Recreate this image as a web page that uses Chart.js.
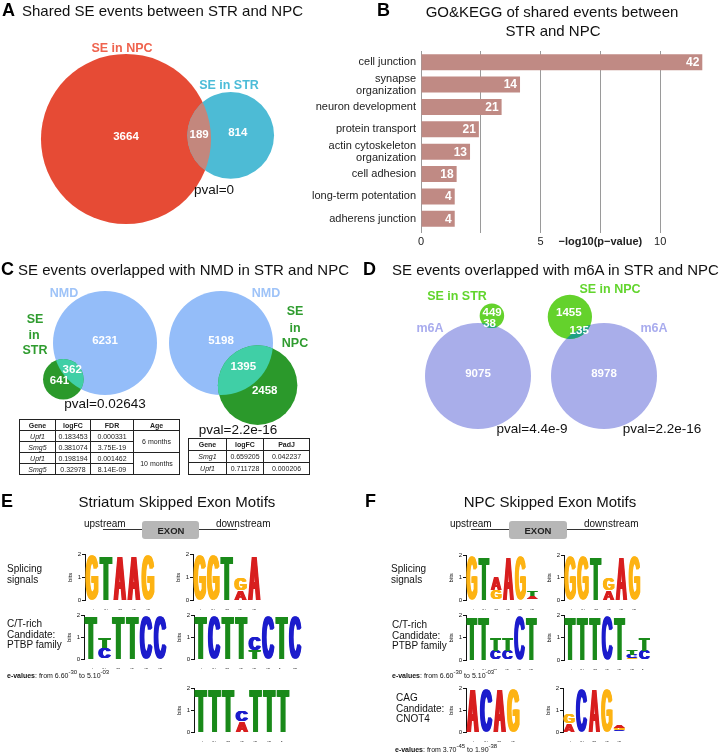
<!DOCTYPE html>
<html><head><meta charset="utf-8">
<script src="https://cdn.jsdelivr.net/npm/chart.js@4.4.1/dist/chart.umd.min.js"></script>
<style>
html,body{margin:0;padding:0;background:#fff;}
body{width:720px;height:753px;position:relative;overflow:hidden;font-family:"Liberation Sans",Arial,Helvetica,sans-serif;color:#111;}
canvas{position:absolute;}
.t{position:absolute;white-space:nowrap;line-height:1;}
.c{transform:translate(-50%,-50%);}
.l{transform:translateY(-50%);}
.pl{font-weight:bold;font-size:18px;color:#000;}
.ttl{font-size:15px;}
.vl{font-weight:bold;font-size:12.5px;}
.pv{font-size:13.5px;}
.side{font-size:10px;line-height:10.5px;}
.ev{font-size:7px;}
.ev sup{font-size:6px;vertical-align:4px;line-height:0;}
.ln{position:absolute;height:1px;background:#333;}
.exon{position:absolute;background:#b7b7b7;border-radius:3px;}
table.tb{position:absolute;border-collapse:collapse;font-size:7px;color:#222;table-layout:fixed;}
table.tb td{border:1px solid #222;text-align:center;padding:0;overflow:hidden;}
table.tb tr.h td{font-weight:bold;}
table.tb td.g{font-style:italic;}
</style></head>
<body>
<canvas id="venn" width="720" height="753" style="left:0;top:0"></canvas>
<canvas id="goBar" width="420" height="214" style="left:300px;top:36px"></canvas>

<!-- Panel letters and titles -->
<div class="t l pl" style="left:2px;top:10px">A</div>
<div class="t l ttl" style="left:22px;top:10px">Shared SE events between STR and NPC</div>
<div class="t l pl" style="left:377px;top:10px">B</div>
<div class="t c ttl" style="left:552px;top:11px">GO&amp;KEGG of shared events between</div>
<div class="t c ttl" style="left:553px;top:30px">STR and NPC</div>
<div class="t l pl" style="left:1px;top:269px">C</div>
<div class="t l ttl" style="left:18px;top:269px">SE events overlapped with NMD in STR and NPC</div>
<div class="t l pl" style="left:363px;top:269px">D</div>
<div class="t l ttl" style="left:392px;top:269px">SE events overlapped with m6A in STR and NPC</div>
<div class="t l pl" style="left:1px;top:501px">E</div>
<div class="t c ttl" style="left:177px;top:501px">Striatum Skipped Exon Motifs</div>
<div class="t l pl" style="left:365px;top:501px">F</div>
<div class="t c ttl" style="left:550px;top:501px">NPC Skipped Exon Motifs</div>

<!-- Venn labels -->
<div class="t c vl" style="left:122px;top:48px;color:#ef634e">SE in NPC</div>
<div class="t c vl" style="left:229px;top:85px;color:#4cbcd8">SE in STR</div>
<div class="t c pv" style="left:214px;top:190px">pval=0</div>

<div class="t c vl" style="left:64px;top:293px;color:#9ec3f8">NMD</div>
<div class="t c vl" style="left:35px;top:319px;color:#2f9c2f">SE</div>
<div class="t c vl" style="left:34px;top:335px;color:#2f9c2f">in</div>
<div class="t c vl" style="left:35px;top:350px;color:#2f9c2f">STR</div>
<div class="t c pv" style="left:105px;top:404px">pval=0.02643</div>
<div class="t c vl" style="left:266px;top:293px;color:#9ec3f8">NMD</div>
<div class="t c vl" style="left:295px;top:311px;color:#2f9c2f">SE</div>
<div class="t c vl" style="left:295px;top:328px;color:#2f9c2f">in</div>
<div class="t c vl" style="left:295px;top:343px;color:#2f9c2f">NPC</div>
<div class="t c pv" style="left:238px;top:430px">pval=2.2e-16</div>

<div class="t c vl" style="left:457px;top:296px;color:#62d52d">SE in STR</div>
<div class="t c vl" style="left:430px;top:328px;color:#a9acee">m6A</div>
<div class="t c pv" style="left:532px;top:429px">pval=4.4e-9</div>
<div class="t c vl" style="left:610px;top:289px;color:#62d52d">SE in NPC</div>
<div class="t c vl" style="left:654px;top:328px;color:#a9acee">m6A</div>
<div class="t c pv" style="left:662px;top:429px">pval=2.2e-16</div>

<!-- Exon diagrams -->
<div class="t l" style="left:84px;top:524px;font-size:10px">upstream</div>
<div class="ln" style="left:103px;top:529px;width:39px"></div>
<div class="exon" style="left:142px;top:521px;width:57px;height:18px"></div>
<div class="t c" style="left:171px;top:531px;font-size:9.5px;font-weight:bold;color:#222">EXON</div>
<div class="ln" style="left:199px;top:529px;width:38px"></div>
<div class="t l" style="left:216px;top:524px;font-size:10px">downstream</div>

<div class="t l" style="left:450px;top:524px;font-size:10px">upstream</div>
<div class="ln" style="left:471px;top:529px;width:38px"></div>
<div class="exon" style="left:509px;top:521px;width:58px;height:18px"></div>
<div class="t c" style="left:538px;top:531px;font-size:9.5px;font-weight:bold;color:#222">EXON</div>
<div class="ln" style="left:567px;top:529px;width:38px"></div>
<div class="t l" style="left:584px;top:524px;font-size:10px">downstream</div>

<!-- Side labels -->
<div class="t side" style="left:7px;top:564px">Splicing<br>signals</div>
<div class="t side" style="left:7px;top:619px">C/T-rich<br>Candidate:<br>PTBP family</div>
<div class="t l ev" style="left:7px;top:675px"><b>e-values</b>: from 6.60<sup>-30</sup> to 5.10<sup>-03</sup></div>
<div class="t side" style="left:391px;top:564px">Splicing<br>signals</div>
<div class="t side" style="left:392px;top:620px">C/T-rich<br>Candidate:<br>PTBP family</div>
<div class="t l ev" style="left:392px;top:675px"><b>e-values</b>: from 6.60<sup>-30</sup> to 5.10<sup>-03</sup></div>
<div class="t side" style="left:396px;top:693px">CAG<br>Candidate:<br>CNOT4</div>
<div class="t l ev" style="left:395px;top:749px"><b>e-values</b>: from 3.70<sup>-45</sup> to 1.90<sup>-38</sup></div>

<script>
// ---------------- DATA ----------------
// Panel A: [NPC only, shared, STR only]
const sharedSECounts = [3664, 189, 814];
// Panel C: [NMD only, overlap, SE only]
const nmdSTRCounts = [6231, 362, 641];
const nmdNPCCounts = [5198, 1395, 2458];
// Panel D: [m6A only, overlap, SE only]
const m6aSTRCounts = [9075, 38, 449];
const m6aNPCCounts = [8978, 135, 1455];

// Panel B
const goTerms = ['cell junction', ['synapse', 'organization'], 'neuron development', 'protein transport',
  ['actin cytoskeleton', 'organization'], 'cell adhesion', 'long-term potentation', 'adherens junction'];
const goNegLog10P = [11.76, 4.14, 3.37, 2.42, 2.05, 1.49, 1.41, 1.41];
const goGeneCounts = [42, 14, 21, 21, 13, 18, 4, 4];
const goAxisTicks = [0, 5, 10];
const goAxisTitle = '\u2212log10(p\u2212value)';

// Tables
const nmdTableHeader = ['Gene', 'logFC', 'FDR', 'Age'];
const nmdTableGenes = ['Upf1', 'Smg5', 'Upf1', 'Smg5'];
const nmdTableLogFC = ['0.183453', '0.381074', '0.198194', '0.32978'];
const nmdTableFDR = ['0.000331', '3.75E-19', '0.001462', '8.14E-09'];
const nmdTableAge = ['6 months', '10 months'];
const npcTableHeader = ['Gene', 'logFC', 'PadJ'];
const npcTableGenes = ['Smg1', 'Upf1'];
const npcTableLogFC = ['0.659205', '0.711728'];
const npcTablePadj = ['0.042237', '0.000206'];

// Motif logos: per position, stacked letters bottom->top as [letter, bits]
const motifE_splice5 = [[['G',1.97]],[['T',1.97]],[['A',1.97]],[['A',1.97]],[['G',1.97]]];
const motifE_splice3 = [[['G',1.97]],[['G',1.97]],[['T',1.97]],[['A',0.44],['G',0.54]],[['A',1.97]]];
const motifE_ct1 = [[['T',1.97]],[['C',0.5],['T',0.5]],[['T',1.97]],[['T',1.97]],[['C',1.97]],[['C',1.97]]];
const motifE_ct2 = [[['T',1.97]],[['C',1.97]],[['T',1.97]],[['T',1.97]],[['T',0.42],['C',0.63]],[['C',1.97]],[['T',1.97]],[['C',1.97]]];
const motifE_ct3 = [[['T',1.97]],[['T',1.97]],[['T',1.97]],[['A',0.5],['C',0.5]],[['T',1.97]],[['T',1.97]],[['T',1.97]]];
const motifF_splice5 = [[['G',1.97]],[['T',1.97]],[['G',0.45],['A',0.55]],[['A',1.97]],[['G',1.97]],[['C',0.06],['A',0.1],['T',0.22]]];
const motifF_splice3 = [[['G',1.97]],[['G',1.97]],[['T',1.97]],[['A',0.45],['G',0.55]],[['A',1.97]],[['G',1.97]]];
const motifF_ct1 = [[['T',1.97]],[['T',1.97]],[['C',0.42],['T',0.6]],[['C',0.42],['T',0.6]],[['C',1.97]],[['T',1.97]]];
const motifF_ct2 = [[['T',1.97]],[['T',1.97]],[['T',1.97]],[['C',1.97]],[['T',1.97]],[['G',0.08],['C',0.16],['T',0.24]],[['C',0.42],['T',0.6]]];
const motifF_cag1 = [[['A',1.97]],[['C',1.97]],[['A',1.97]],[['G',1.97]]];
const motifF_cag2 = [[['A',0.4],['G',0.4]],[['C',1.97]],[['A',1.97]],[['G',1.97]],[['C',0.08],['G',0.1],['A',0.1]]];

// ---------------- GENERAL ----------------
const FONT = '"Liberation Sans", Arial, Helvetica, sans-serif';
Chart.defaults.font.family = FONT;
Chart.defaults.animation = false;
Chart.defaults.responsive = false;
Chart.defaults.events = [];
Chart.defaults.plugins.legend.display = false;
Chart.defaults.plugins.tooltip.enabled = false;

// ---------------- VENN (A, C, D) ----------------
function lensArea(r1, r2, d) {
  if (d >= r1 + r2) return 0;
  if (d <= Math.abs(r1 - r2)) return Math.PI * Math.min(r1, r2) ** 2;
  const a1 = Math.acos((d*d + r1*r1 - r2*r2) / (2*d*r1));
  const a2 = Math.acos((d*d + r2*r2 - r1*r1) / (2*d*r2));
  const t = 0.5 * Math.sqrt((-d+r1+r2)*(d+r1-r2)*(d-r1+r2)*(d+r1+r2));
  return r1*r1*a1 + r2*r2*a2 - t;
}
function distanceForOverlap(r1, r2, target) {
  let lo = Math.abs(r1 - r2), hi = r1 + r2;
  for (let i = 0; i < 80; i++) {
    const mid = (lo + hi) / 2;
    if (lensArea(r1, r2, mid) > target) lo = mid; else hi = mid;
  }
  return (lo + hi) / 2;
}
// layout only (anchor of big circle, direction of small circle, scale)
const vennPanels = [
  {counts: sharedSECounts, anchor: [126, 139], angle: -2, pxPerUnit: 1.37, fill: ['#e64b35', '#4dbbd5'], overlap: '#c3877d'},
  {counts: nmdSTRCounts, anchor: [105, 343], angle: 139, pxPerUnit: 0.6404, fill: ['#94bdf9', '#2b992b'], overlap: '#40cfa6'},
  {counts: nmdNPCCounts, anchor: [221, 343], angle: 49, pxPerUnit: 0.6404, fill: ['#94bdf9', '#2b992b'], overlap: '#40cfa6'},
  {counts: m6aSTRCounts, anchor: [478, 376], angle: -77, pxPerUnit: 0.5552, fill: ['#a9aeea', '#64d22c'], overlap: '#1f9f85'},
  {counts: m6aNPCCounts, anchor: [604, 376], angle: -120, pxPerUnit: 0.5552, fill: ['#a9aeea', '#64d22c'], overlap: '#1f9f85'}
];
const vennDatasets = vennPanels.map(p => {
  const [bigOnly, both, smallOnly] = p.counts;
  const r1 = Math.sqrt(bigOnly + both), r2 = Math.sqrt(smallOnly + both);
  const d = distanceForOverlap(r1, r2, Math.PI * both);
  const th = p.angle * Math.PI / 180, k = p.pxPerUnit;
  const c1 = {x: p.anchor[0], y: p.anchor[1], rU: r1 * k};
  const c2 = {x: p.anchor[0] + Math.cos(th) * d * k, y: p.anchor[1] + Math.sin(th) * d * k, rU: r2 * k};
  const rad = (ctx) => {
    const s = ctx.chart.scales.x; const v = ctx.raw;
    return Math.abs(s.getPixelForValue(v.x + v.rU) - s.getPixelForValue(v.x));
  };
  return {
    data: [c1, c2], counts: p.counts, overlapColor: p.overlap,
    pointBackgroundColor: p.fill, pointBorderWidth: 0,
    pointRadius: rad, pointHoverRadius: rad
  };
});
const vennPlugin = {
  id: 'vennOverlap',
  afterDatasetsDraw(chart) {
    const ctx = chart.ctx;
    chart.data.datasets.forEach((ds, i) => {
      const els = chart.getDatasetMeta(i).data;
      const a = els[0], b = els[1];
      const ra = a.options.radius, rb = b.options.radius;
      ctx.save();
      ctx.beginPath(); ctx.arc(a.x, a.y, ra, 0, Math.PI * 2); ctx.clip();
      ctx.beginPath(); ctx.arc(b.x, b.y, rb, 0, Math.PI * 2);
      ctx.fillStyle = ds.overlapColor; ctx.fill();
      ctx.restore();
      const dx = b.x - a.x, dy = b.y - a.y, d = Math.hypot(dx, dy), ux = dx / d, uy = dy / d;
      const lensMid = (d - rb + ra) / 2;
      const depth = Math.max(0, ra - (d - rb));
      const pts = [[a.x, a.y], [a.x + ux * lensMid, a.y + uy * lensMid], [b.x + ux * depth * 0.3, b.y + uy * depth * 0.3]];
      ctx.save();
      ctx.font = 'bold 11.5px ' + FONT; ctx.fillStyle = '#fff';
      ctx.textAlign = 'center'; ctx.textBaseline = 'middle';
      ds.counts.forEach((c, k) => ctx.fillText(String(c), pts[k][0], pts[k][1] - 2));
      ctx.restore();
    });
  }
};
new Chart(document.getElementById('venn'), {
  type: 'scatter',
  data: {datasets: vennDatasets},
  options: {
    layout: {padding: 0},
    scales: {
      x: {type: 'linear', min: 0, max: 720, display: false},
      y: {type: 'linear', min: 0, max: 753, reverse: true, display: false}
    }
  },
  plugins: [vennPlugin]
});

// ---------------- PANEL B ----------------
const barValuePlugin = {
  id: 'barValues',
  afterDatasetsDraw(chart) {
    const ctx = chart.ctx;
    const meta = chart.getDatasetMeta(0);
    ctx.save();
    ctx.font = 'bold 12px ' + FONT; ctx.fillStyle = '#fff';
    ctx.textAlign = 'right'; ctx.textBaseline = 'middle';
    meta.data.forEach((el, i) => ctx.fillText(String(goGeneCounts[i]), el.x - 3, el.y + 0.5));
    ctx.restore();
  }
};
new Chart(document.getElementById('goBar'), {
  type: 'bar',
  data: {labels: goTerms, datasets: [{data: goNegLog10P, backgroundColor: '#c08a84', borderWidth: 0, barPercentage: 0.72, categoryPercentage: 1}]},
  options: {
    indexAxis: 'y',
    layout: {padding: {top: 15, right: 0, left: 0, bottom: 0}},
    scales: {
      x: {
        type: 'linear', min: 0, max: 12.5,
        afterBuildTicks: (s) => { s.ticks = s.ticks.filter(t => t.value <= 10); },
        afterFit: (s) => { s.height = 20; },
        ticks: {
          stepSize: 2.5, autoSkip: false, maxRotation: 0, padding: 2, color: '#222',
          font: (c) => ({size: 11, weight: (c.tick && c.tick.value === 7.5) ? 'bold' : 'normal'}),
          callback: (v) => v === 7.5 ? goAxisTitle : (goAxisTicks.includes(v) ? String(v) : '')
        },
        grid: {color: '#9a9a9a', lineWidth: 1, drawTicks: true, tickLength: 3},
        border: {display: false}
      },
      y: {
        afterFit: (s) => { s.width = 121; },
        ticks: {color: '#222', font: {size: 11, lineHeight: 1.1}, padding: 5, autoSkip: false},
        grid: {display: false, drawTicks: false},
        border: {display: false}
      }
    }
  },
  plugins: [barValuePlugin]
});

// ---------------- TABLES ----------------
function buildTable(left, top, widths, rowH, headerCells, rows) {
  const tb = document.createElement('table');
  tb.className = 'tb';
  tb.style.left = left + 'px'; tb.style.top = top + 'px';
  tb.style.width = widths.reduce((a, b) => a + b, 0) + 'px';
  const cg = document.createElement('colgroup');
  widths.forEach(w => { const c = document.createElement('col'); c.style.width = w + 'px'; cg.appendChild(c); });
  tb.appendChild(cg);
  const h = document.createElement('tr'); h.className = 'h'; h.style.height = rowH + 'px';
  headerCells.forEach(t => { const td = document.createElement('td'); td.textContent = t; h.appendChild(td); });
  tb.appendChild(h);
  rows.forEach(r => {
    const tr = document.createElement('tr'); tr.style.height = rowH + 'px';
    r.forEach(cell => {
      if (cell === null) return;
      const td = document.createElement('td'); td.textContent = cell.text;
      if (cell.cls) td.className = cell.cls;
      if (cell.rowSpan) td.rowSpan = cell.rowSpan;
      tr.appendChild(td);
    });
    tb.appendChild(tr);
  });
  document.body.appendChild(tb);
}
buildTable(19, 419, [36, 35, 43, 46], 11, nmdTableHeader,
  nmdTableGenes.map((g, i) => [
    {text: g, cls: 'g'}, {text: nmdTableLogFC[i]}, {text: nmdTableFDR[i]},
    i % 2 === 0 ? {text: nmdTableAge[i / 2], rowSpan: 2} : null
  ]));
buildTable(188, 438, [38, 37, 46], 12, npcTableHeader,
  npcTableGenes.map((g, i) => [{text: g, cls: 'g'}, {text: npcTableLogFC[i]}, {text: npcTablePadj[i]}]));

// ---------------- LOGOS (E, F) ----------------
const LETTER_COLORS = {A: '#d81f1f', C: '#1c1ccc', G: '#fdb313', T: '#1a8a1a'};
const LOGO_FONT = 'bold 100px "Liberation Sans", Arial, sans-serif';
const logoPlugin = {
  id: 'logoLetters',
  afterDatasetsDraw(chart) {
    const ctx = chart.ctx;
    ctx.save();
    ctx.font = LOGO_FONT;
    ctx.textBaseline = 'alphabetic'; ctx.textAlign = 'left';
    chart.data.datasets.forEach((ds, di) => {
      chart.getDatasetMeta(di).data.forEach((el, i) => {
        const letter = ds.letters[i];
        if (!letter || !(ds.data[i] > 0)) return;
        const left = el.x - el.width / 2, w = el.width;
        const top = Math.min(el.y, el.base), bottom = Math.max(el.y, el.base), h = bottom - top;
        if (h < 0.3) return;
        const m = ctx.measureText(letter);
        const gw = m.actualBoundingBoxLeft + m.actualBoundingBoxRight;
        const gh = m.actualBoundingBoxAscent + m.actualBoundingBoxDescent;
        // heavier vertical strokes: smear horizontally, keep the box
        const thick = Math.max(0.5, w * 0.2);
        const sx = (w - thick) / gw, sy = h / gh;
        ctx.fillStyle = LETTER_COLORS[letter];
        for (let o = 0; o <= thick + 0.01; o += 0.5) {
          ctx.save();
          ctx.translate(left + o, bottom);
          ctx.scale(sx, sy);
          ctx.fillText(letter, m.actualBoundingBoxLeft, -m.actualBoundingBoxDescent);
          ctx.restore();
        }
      });
    });
    ctx.restore();
  }
};
function makeLogo(positions, geom) {
  const [axisX, rightX, y2, y0] = geom;
  const yW = 18, xH = 10, padTop = 4;
  const cv = document.createElement('canvas');
  const left = axisX - yW, top = y2 - padTop;
  cv.width = rightX - left + 2; cv.height = (y0 - top) + xH;
  cv.style.left = left + 'px'; cv.style.top = top + 'px';
  document.body.appendChild(cv);
  const nLayers = Math.max(...positions.map(p => p.length));
  const datasets = [];
  for (let i = 0; i < nLayers; i++) {
    datasets.push({
      data: positions.map(p => p[i] ? p[i][1] : 0),
      letters: positions.map(p => p[i] ? p[i][0] : ''),
      backgroundColor: 'rgba(0,0,0,0)', borderWidth: 0,
      barPercentage: 0.95, categoryPercentage: 1
    });
  }
  new Chart(cv, {
    type: 'bar',
    data: {labels: positions.map((_, i) => String(i + 1)), datasets},
    options: {
      layout: {padding: {top: padTop, right: 2, left: 0, bottom: 0}},
      scales: {
        x: {
          stacked: true,
          afterFit: (s) => { s.height = xH; },
          ticks: {font: {size: 6}, color: '#222', maxRotation: 90, minRotation: 90, padding: 1, autoSkip: false},
          grid: {display: false}, border: {display: false}
        },
        y: {
          stacked: true, min: 0, max: 2,
          afterFit: (s) => { s.width = yW; },
          ticks: {stepSize: 1, font: {size: 6}, color: '#111', padding: 1},
          grid: {drawOnChartArea: false, drawTicks: true, tickLength: 3, color: '#111', lineWidth: 1},
          border: {display: true, color: '#111', width: 1},
          title: {display: true, text: 'bits', font: {size: 6}, padding: 0, color: '#111'}
        }
      }
    },
    plugins: [logoPlugin]
  });
}
// layout: [axis x, right x, y of 2 bits, y of 0 bits]
makeLogo(motifE_splice5, [85, 155, 554, 600]);
makeLogo(motifE_splice3, [193, 261, 554, 600]);
makeLogo(motifE_ct1, [84, 167, 615, 659]);
makeLogo(motifE_ct2, [194, 302, 615, 659]);
makeLogo(motifE_ct3, [194, 290, 688, 732]);
makeLogo(motifF_splice5, [466, 539, 555, 600]);
makeLogo(motifF_splice3, [564, 641, 555, 600]);
makeLogo(motifF_ct1, [466, 538, 615, 660]);
makeLogo(motifF_ct2, [564, 651, 615, 660]);
makeLogo(motifF_cag1, [466, 520, 688, 732]);
makeLogo(motifF_cag2, [563, 626, 688, 732]);
</script>
</body></html>
